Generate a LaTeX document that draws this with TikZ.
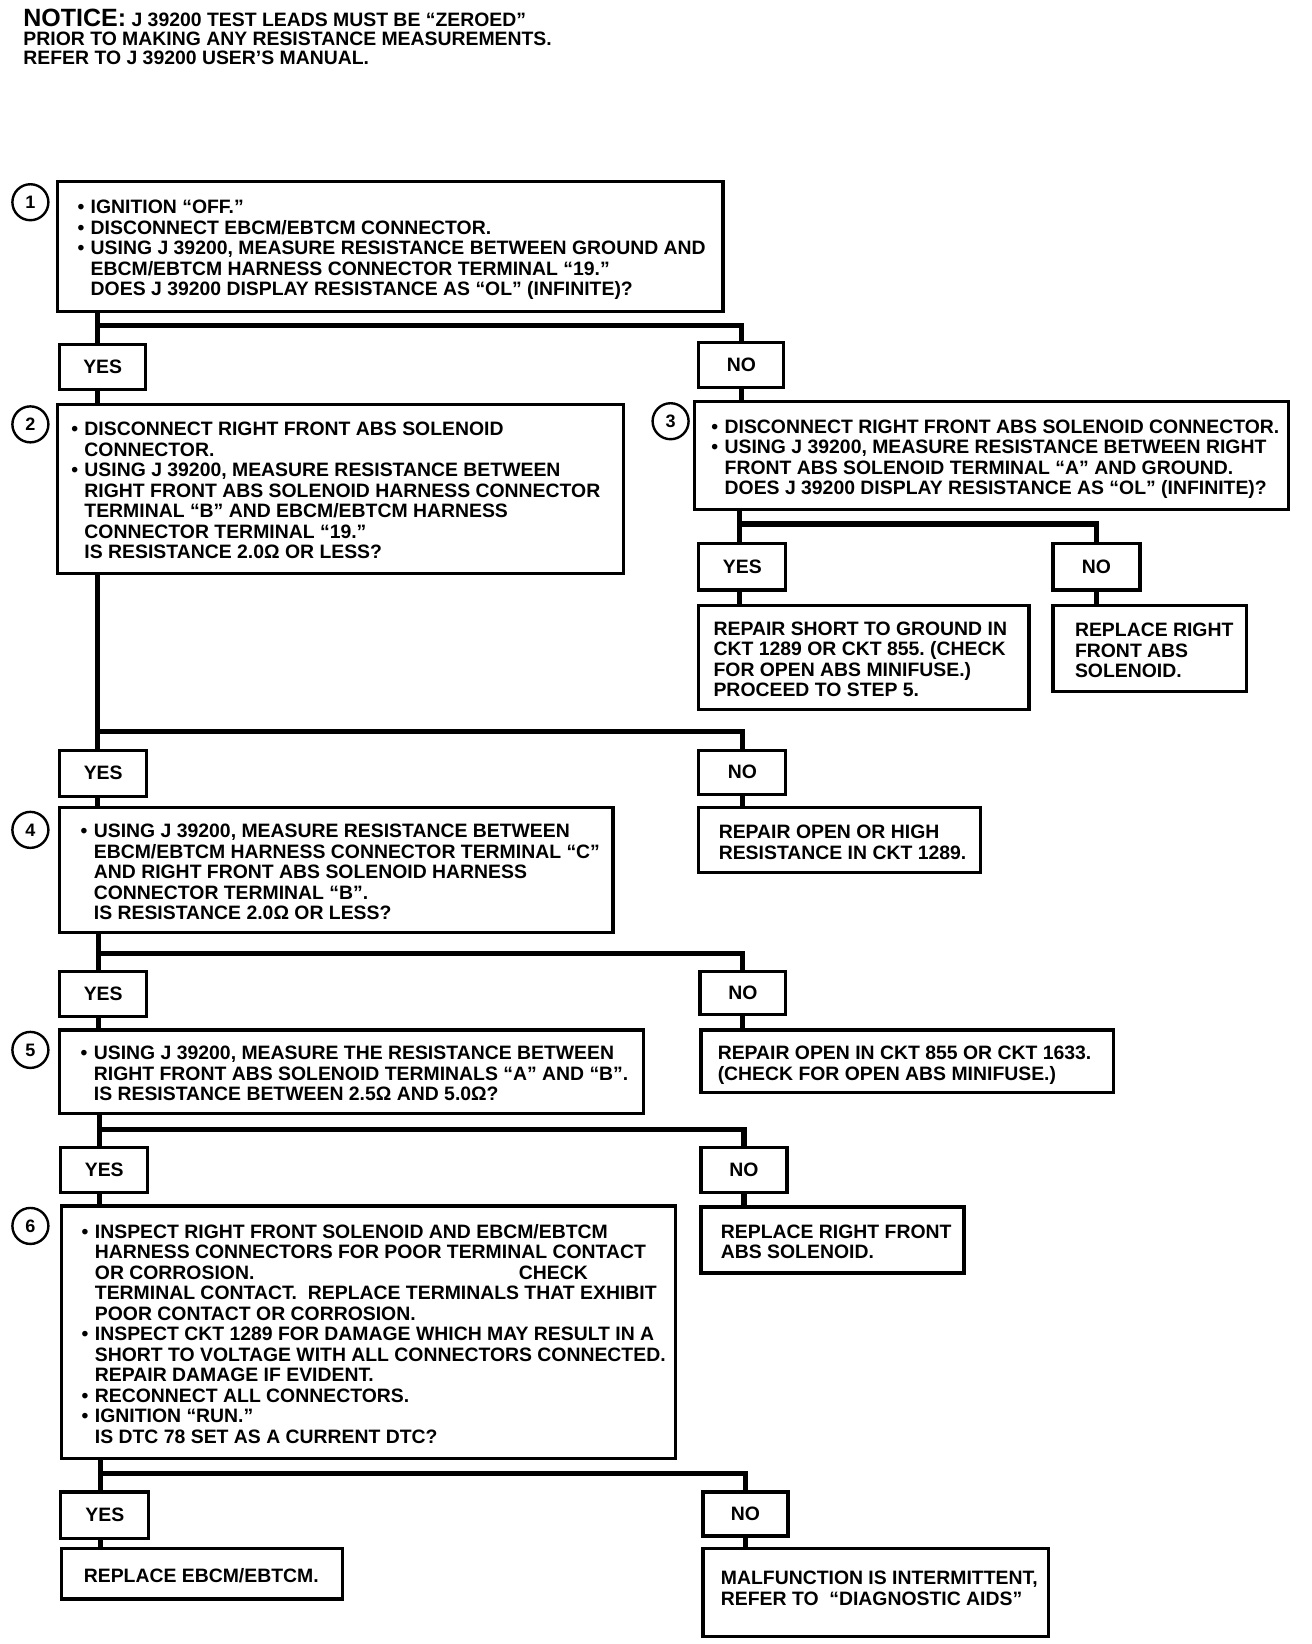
\documentclass[tikz,border=0pt]{standalone}
\usepackage{fontspec}
\setmainfont{Liberation Sans}
\usetikzlibrary{calc}
\frenchspacing
\newcommand\tbf{\fontsize{9.7}{10.25}\selectfont\bfseries}
\newcommand\bul{\makebox[6.6pt][l]{•}}
\newcommand\ind{\hspace*{6.6pt}}
\tikzset{
 box/.style={draw, line width=1.6pt, rectangle, inner ysep=0pt, font=\tbf},
 yn/.style={draw, line width=1.6pt, rectangle, font=\tbf, inner sep=0pt},
 conn/.style={line width=2.6pt},
 num/.style={draw, circle, line width=1.2pt, minimum size=18pt, inner sep=0pt, font=\fontsize{9}{9}\selectfont\bfseries},
 ntc/.style={anchor=base west, inner sep=0pt, font=\tbf},
}
\newcommand\bx[7]{%
 \pgfmathsetlengthmacro\mybw{(#4-#2)*0.524pt}%
 \pgfmathsetlengthmacro\mybh{(#5-#3)*0.524pt}%
 \pgfmathsetlengthmacro\mybp{#6*0.524pt}%
 \pgfmathsetlengthmacro\mytw{(#4-#2-2*#6)*0.524pt}%
 \node[box, minimum width=\mybw, minimum height=\mybh, inner xsep=\mybp] (#1) at ({(#2+#4)/2},{(#3+#5)/2}) {\makebox[\mytw][l]{\begin{tabular}[c]{@{}l@{}}\rule{0pt}{11.6pt}#7\end{tabular}}};}
\newcommand\yn[6]{%
 \pgfmathsetlengthmacro\mybw{(#4-#2)*0.524pt}%
 \pgfmathsetlengthmacro\mybh{(#5-#3)*0.524pt}%
 \node[yn, minimum width=\mybw, minimum height=\mybh] (#1) at ({(#2+#4)/2},{(#3+#5)/2}) {#6};}
\begin{document}
\begin{tikzpicture}[x=0.524pt, y=-0.524pt]
\useasboundingbox (0,0) rectangle (1252,1569);
% notice
\node[ntc] (nt1) at (22,25) {{\fontsize{12.5}{13}\selectfont NOTICE:} J 39200 TEST LEADS MUST BE “ZEROED”};
\node[ntc] (nt2) at (22,43) {PRIOR TO MAKING ANY RESISTANCE MEASUREMENTS.};
\node[ntc] (nt3) at (22,62) {REFER TO J 39200 USER’S MANUAL.};
% step 1
\node[num] (c1) at (29,193) {1};
\bx{b1}{55}{173}{690}{297}{19}{\bul IGNITION “OFF.”\\
\bul DISCONNECT EBCM/EBTCM CONNECTOR.\\
\bul USING J 39200, MEASURE RESISTANCE BETWEEN GROUND AND\\
\ind EBCM/EBTCM HARNESS CONNECTOR TERMINAL “19.”\\
\ind DOES J 39200 DISPLAY RESISTANCE AS “OL” (INFINITE)?}
\yn{y1}{57}{329}{139}{372}{YES}
\yn{n1}{667}{327}{748}{370}{NO}
% step 2
\node[num] (c2) at (29,405) {2};
\bx{b2}{55}{386}{595}{547}{13}{\bul DISCONNECT RIGHT FRONT ABS SOLENOID\\
\ind CONNECTOR.\\
\bul USING J 39200, MEASURE RESISTANCE BETWEEN\\
\ind RIGHT FRONT ABS SOLENOID HARNESS CONNECTOR\\
\ind TERMINAL “B” AND EBCM/EBTCM HARNESS\\
\ind CONNECTOR TERMINAL “19.”\\
\ind IS RESISTANCE 2.0Ω OR LESS?}
% step 3
\node[num] (c3) at (640,402) {3};
\bx{b3}{663}{383}{1230}{486}{16}{\bul DISCONNECT RIGHT FRONT ABS SOLENOID CONNECTOR.\\
\bul USING J 39200, MEASURE RESISTANCE BETWEEN RIGHT\\
\ind FRONT ABS SOLENOID TERMINAL “A” AND GROUND.\\
\ind DOES J 39200 DISPLAY RESISTANCE AS “OL” (INFINITE)?}
\yn{y3}{667}{519}{750}{563}{YES}
\yn{n3}{1005}{519}{1088}{563}{NO}
\bx{r3y}{667}{578}{982}{677}{14}{REPAIR SHORT TO GROUND IN\\
CKT 1289 OR CKT 855. (CHECK\\
FOR OPEN ABS MINIFUSE.)\\
PROCEED TO STEP 5.}
\bx{r3n}{1005}{578}{1190}{660}{21}{REPLACE RIGHT\\
FRONT ABS\\
SOLENOID.}
% after step 2
\yn{y2}{57}{716}{140}{760}{YES}
\yn{n2}{667}{716}{750}{758}{NO}
\bx{r2n}{667}{771}{936}{833}{19}{REPAIR OPEN OR HIGH\\
RESISTANCE IN CKT 1289.}
% step 4
\node[num] (c4) at (29,792) {4};
\bx{b4}{57}{771}{585}{890}{20}{\bul USING J 39200, MEASURE RESISTANCE BETWEEN\\
\ind EBCM/EBTCM HARNESS CONNECTOR TERMINAL “C”\\
\ind AND RIGHT FRONT ABS SOLENOID HARNESS\\
\ind CONNECTOR TERMINAL “B”.\\
\ind IS RESISTANCE 2.0Ω OR LESS?}
\yn{y4}{57}{927}{140}{970}{YES}
\yn{n4}{668}{927}{750}{968}{NO}
% step 5
\node[num] (c5) at (29,1002) {5};
\bx{b5}{57}{983}{614}{1063}{20}{\bul USING J 39200, MEASURE THE RESISTANCE BETWEEN\\
\ind RIGHT FRONT ABS SOLENOID TERMINALS “A” AND “B”.\\
\ind IS RESISTANCE BETWEEN 2.5Ω AND 5.0Ω?}
\bx{r4n}{669}{983}{1063}{1043}{16}{REPAIR OPEN IN CKT 855 OR CKT 1633.\\
(CHECK FOR OPEN ABS MINIFUSE.)}
\yn{y5}{58}{1095}{141}{1138}{YES}
\yn{n5}{669}{1095}{751}{1138}{NO}
% step 6
\node[num] (c6) at (29,1170) {6};
\bx{b6}{59}{1151}{645}{1392}{19}{\bul INSPECT RIGHT FRONT SOLENOID AND EBCM/EBTCM\\
\ind HARNESS CONNECTORS FOR POOR TERMINAL CONTACT\\
\ind \makebox[212pt][l]{OR CORROSION.}CHECK\\
\ind TERMINAL CONTACT.\ \ REPLACE TERMINALS THAT EXHIBIT\\
\ind POOR CONTACT OR CORROSION.\\
\bul INSPECT CKT 1289 FOR DAMAGE WHICH MAY RESULT IN A\\
\ind SHORT TO VOLTAGE WITH ALL CONNECTORS CONNECTED.\\
\ind REPAIR DAMAGE IF EVIDENT.\\
\bul RECONNECT ALL CONNECTORS.\\
\bul IGNITION “RUN.”\\
\ind IS DTC 78 SET AS A CURRENT DTC?}
\bx{r5n}{669}{1152}{920}{1215}{19}{REPLACE RIGHT FRONT\\
ABS SOLENOID.}
\yn{y6}{58}{1424}{142}{1468}{YES}
\yn{n6}{671}{1424}{752}{1466}{NO}
\bx{r6y}{59}{1478}{327}{1526}{21}{REPLACE EBCM/EBTCM.}
\bx{r6n}{671}{1478}{1001}{1562}{17}{MALFUNCTION IS INTERMITTENT,\\
REFER TO\ \ “DIAGNOSTIC AIDS”\\[6pt]}
% connectors
\coordinate (j1) at (93,311);
\draw[conn] (b1.south -| j1) -- (j1) -| (n1.north);
\draw[conn] (j1) -- (y1.north -| j1);
\draw[conn] (y1.south -| j1) -- (b2.north -| j1);
\draw[conn] (n1.south) -- (b3.north -| n1.south);
\coordinate (j3) at (706,500);
\draw[conn] (b3.south -| j3) -- (j3) -| (n3.north);
\draw[conn] (j3) -- (y3.north -| j3);
\draw[conn] (y3.south -| j3) -- (r3y.north -| j3);
\draw[conn] (n3.south) -- (r3n.north -| n3.south);
\coordinate (j2) at (93,698);
\draw[conn] (b2.south -| j2) -- (j2) -| (n2.north);
\draw[conn] (j2) -- (y2.north -| j2);
\draw[conn] (y2.south -| j2) -- (b4.north -| j2);
\draw[conn] (n2.south) -- (r2n.north -| n2.south);
\coordinate (j4) at (94,910);
\draw[conn] (b4.south -| j4) -- (j4) -| (n4.north);
\draw[conn] (j4) -- (y4.north -| j4);
\draw[conn] (y4.south -| j4) -- (b5.north -| j4);
\draw[conn] (n4.south) -- (r4n.north -| n4.south);
\coordinate (j5) at (95,1078);
\draw[conn] (b5.south -| j5) -- (j5) -| (n5.north);
\draw[conn] (j5) -- (y5.north -| j5);
\draw[conn] (y5.south -| j5) -- (b6.north -| j5);
\draw[conn] (n5.south) -- (r5n.north -| n5.south);
\coordinate (j6) at (96,1406);
\draw[conn] (b6.south -| j6) -- (j6) -| (n6.north);
\draw[conn] (j6) -- (y6.north -| j6);
\draw[conn] (y6.south -| j6) -- (r6y.north -| j6);
\draw[conn] (n6.south) -- (r6n.north -| n6.south);
\end{tikzpicture}
\end{document}
